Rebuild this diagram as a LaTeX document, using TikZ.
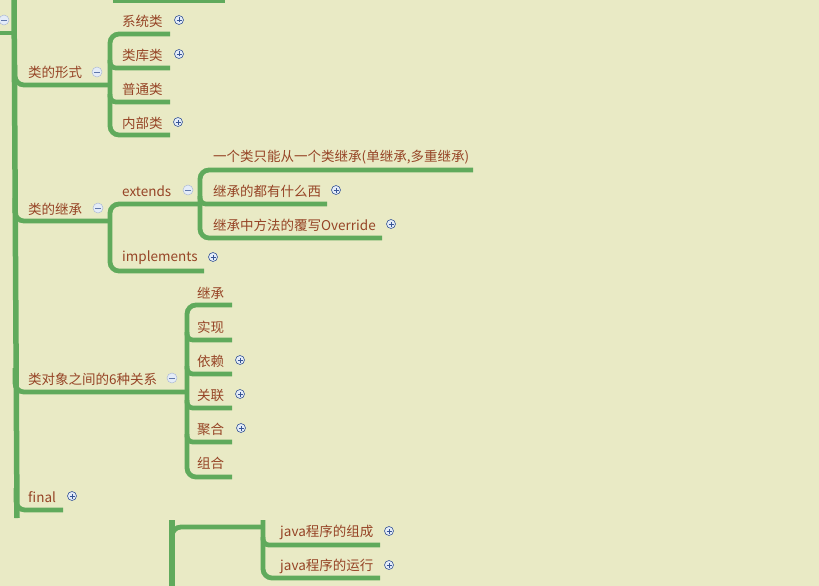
\documentclass[tikz,border=0pt]{standalone}
\usepackage{fontspec}
\newfontfamily\cjk{Noto Sans CJK SC}
\usepackage{tikz}
\usetikzlibrary{positioning}

\definecolor{bgyellow}{RGB}{233,234,197}
\definecolor{brgreen}{RGB}{96,170,92}
\definecolor{lblbrown}{RGB}{150,68,38}
\definecolor{iconblue}{RGB}{55,85,150}
\definecolor{iconfill}{RGB}{228,236,248}

\tikzset{
  br/.style={draw=brgreen,line width=4.8pt,line cap=butt,rounded corners=9pt},
  lbl/.style={text=lblbrown,font=\cjk\fontsize{13.5}{15}\selectfont,anchor=west,inner sep=0pt},
  expand/.style={circle,draw=iconblue,fill=iconfill,line width=0.6pt,minimum size=9pt,inner sep=0pt,
    path picture={\draw[iconblue,line width=0.9pt]
      ([xshift=-2.5pt]path picture bounding box.center) -- ([xshift=2.5pt]path picture bounding box.center)
      ([yshift=-2.5pt]path picture bounding box.center) -- ([yshift=2.5pt]path picture bounding box.center);}},
  collapse/.style={circle,draw=iconblue!40,fill=iconfill,line width=0.5pt,minimum size=10pt,inner sep=0pt,
    path picture={\draw[iconblue!80,line width=0.8pt]
      ([xshift=-3pt]path picture bounding box.center) -- ([xshift=3pt]path picture bounding box.center);}}
}

\begin{document}
\begin{tikzpicture}[x=1pt,y=-1pt]
  \fill[bgyellow] (0,0) rectangle (819,586);
  \useasboundingbox (0,0) rectangle (819,586);

  % main trunk and the stubs at the top
  \draw[br,line width=5.5pt] (14,-5) -- (17,518);
  \draw[br] (-5,33) -- (15,33);
  \draw[br] (113,1) -- (225,1);
  \node[collapse] (root-minus) at (4,20) {};

  % first branch
  \draw[br] (15,65) |- (110,85);
  \draw[br] (170,34) -| (110,85) |- (170,135);
  \draw[br,rounded corners=6pt] (110,60) |- (170,68);
  \draw[br,rounded corners=6pt] (110,94) |- (170,102);
  \node[lbl] (xingshi) at (28,72) {类的形式};
  \node[collapse] (xingshi-minus) at (97,72) {};
  \node[lbl] (xitong) at (122,21) {系统类};
  \node[expand] (xitong-plus) at (179,20) {};
  \node[lbl] (leiku) at (122,55) {类库类};
  \node[expand] (leiku-plus) at (179,54) {};
  \node[lbl] (putong) at (122,89) {普通类};
  \node[lbl] (neibu) at (122,123) {内部类};
  \node[expand] (neibu-plus) at (178,122) {};

  % second branch
  \draw[br] (15,198) |- (110,221);
  \draw[br] (200,204) -| (110,221) |- (204,271);
  \draw[br] (473,170) -| (200,204) |- (382,238);
  \draw[br,rounded corners=6pt] (200,196) |- (327,204);
  \node[lbl] (jicheng) at (28,209) {类的继承};
  \node[collapse] (jicheng-minus) at (98,208) {};
  \node[lbl] (extends) at (122,191) {extends};
  \node[collapse] (extends-minus) at (188,190) {};
  \node[lbl] (danjicheng) at (213,157) {一个类只能从一个类继承(单继承,多重继承)};
  \node[lbl] (youshenme) at (213,191) {继承的都有什么西};
  \node[expand] (youshenme-plus) at (336,190) {};
  \node[lbl] (fuxie) at (213,225) {继承中方法的覆写Override};
  \node[expand] (fuxie-plus) at (391,224) {};
  \node[lbl] (implements) at (122,258) {implements};
  \node[expand] (implements-plus) at (213,257) {};

  % third branch
  \draw[br] (15,368) |- (187,392);
  \draw[br] (232,305) -| (187,392) |- (232,477);
  \foreach \yy in {340,374,408,442}
    \draw[br,rounded corners=6pt] (187,\yy-8) |- (232,\yy);
  \node[lbl] (guanxi) at (28,379) {类对象之间的6种关系};
  \node[collapse] (guanxi-minus) at (172,378) {};
  \node[lbl] (r-jicheng) at (197,293) {继承};
  \node[lbl] (r-shixian) at (197,327) {实现};
  \node[lbl] (r-yilai) at (197,361) {依赖};
  \node[expand] (r-yilai-plus) at (240,360) {};
  \node[lbl] (r-guanlian) at (197,395) {关联};
  \node[expand] (r-guanlian-plus) at (240,394) {};
  \node[lbl] (r-juhe) at (197,429) {聚合};
  \node[expand] (r-juhe-plus) at (241,428) {};
  \node[lbl] (r-zuhe) at (197,463) {组合};

  % last branch
  \draw[br] (16,488) |- (63,510);
  \node[lbl] (final) at (28,497) {final};
  \node[expand] (final-plus) at (72,496) {};

  % lower tree
  \draw[br,line width=6pt] (172,520) -- (172,592);
  \draw[br] (172,538) |- (263,527);
  \draw[br] (263,520) |- (380,578);
  \draw[br,rounded corners=6pt] (263,537) |- (380,545);
  \node[lbl] (zucheng) at (280,532) {java程序的组成};
  \node[expand] (zucheng-plus) at (389,531) {};
  \node[lbl] (yunxing) at (280,566) {java程序的运行};
  \node[expand] (yunxing-plus) at (389,565) {};
\end{tikzpicture}
\end{document}
